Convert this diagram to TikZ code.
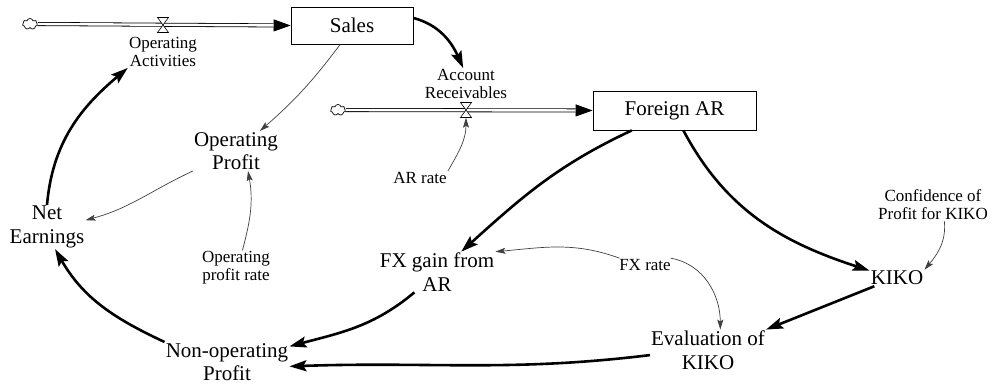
\documentclass[tikz,border=0pt]{standalone}
\usepackage{fontspec}
\setmainfont{Liberation Serif}
\newfontfamily\diagfont{Liberation Serif}
\usetikzlibrary{arrows.meta,shapes.symbols}
\begin{document}
\begin{tikzpicture}[x=1pt,y=-1pt,
  lbl/.style={align=center, inner sep=1pt, font=\diagfont\fontsize{21}{23.5}\selectfont},
  small/.style={align=center, inner sep=1pt, font=\diagfont\fontsize{17}{18}\selectfont},
  stock/.style={draw, line width=0.8pt, inner sep=0pt, font=\diagfont\fontsize{21}{24}\selectfont},
  strong link/.style={line width=2.6pt, -{Stealth[length=17pt,width=11pt,inset=3pt]}},
  weak link/.style={line width=0.7pt, draw=black!75, -{Stealth[length=10pt,width=6pt,inset=2pt]}},
  pipe/.style={double, double distance=2.4pt, line width=0.8pt},
  pipehead/.style={line width=0.8pt, -{Triangle[length=17pt,width=12pt]}},
  sink/.style={cloud, cloud puffs=7, aspect=1.4, draw, line width=0.7pt, inner sep=0pt,
               minimum width=15pt, minimum height=11pt},
  valvebox/.style={inner sep=0pt, minimum width=11pt, minimum height=15pt},
  valvesym/.pic={\draw[fill=white, line width=0.6pt] (-5.5,-7.5) -- (5.5,-7.5) -- (-5.5,7.5) -- (5.5,7.5) -- cycle;}
]
\useasboundingbox (0,0) rectangle (1001,386);

% stocks
\node[stock, minimum width=122pt, minimum height=37pt] (sales) at (352,25.5) {Sales};
\node[stock, minimum width=163pt, minimum height=39pt] (far) at (674.5,110.5) {Foreign AR};

% sources and valves
\node[sink] (sink1) at (30,24) {};
\node[sink] (sink2) at (338,110) {};
\node[valvebox] (valve1) at (163,25) {};
\node[valvebox] (valve2) at (466,110) {};

% auxiliaries
\node[small] (opact) at (163,52) {Operating\\Activities};
\node[small] (accrec) at (466,84) {Account\\Receivables};
\node[small] (arrate) at (420,178) {AR rate};
\node[lbl] (opprofit) at (236,151) {Operating\\Profit};
\node[lbl] (netearn) at (47,227) {Net\\Earnings};
\node[small] (oprate) at (236,268) {Operating\\profit rate};
\node[lbl] (fxgain) at (437,272) {FX gain from\\AR};
\node[lbl] (nonop) at (227,362) {Non-operating\\Profit};
\node[lbl] (evalk) at (708,350) {Evaluation of\\KIKO};
\node[small] (fxrate) at (645,265) {FX rate};
\node[lbl] (kiko) at (897,278) {KIKO};
\node[small] (conf) at (933,205) {Confidence of\\Profit for KIKO};

% flows
\draw[pipehead] (valve1.center) -- (sales.west);
\draw[pipe, shorten >=17pt] (sink1.east) -- (sales.west);
\pic at (valve1) {valvesym};
\draw[pipehead] (valve2.center) -- (far.west);
\draw[pipe, shorten >=17pt] (sink2.east) -- (far.west);
\pic at (valve2) {valvesym};

% strong links
\draw[strong link] (netearn.north) to[out=85,in=220] (opact.south west);
\draw[strong link] (nonop.north west) to[out=155,in=-60] (netearn.-70);
\draw[strong link] (sales.7) to[out=-15,in=114] (accrec.100);
\draw[strong link] (far.-155) to[out=205,in=42] (fxgain.40);
\draw[strong link] (fxgain.-138) to[out=220,in=15] (nonop.14);
\draw[strong link] (evalk.185) to[out=187,in=2] (nonop.-4);
\draw[strong link] (far.-66) to[out=-62,in=162] (kiko.165);
\draw[strong link] (kiko.200) -- (evalk.north east);

% weak links
\draw[weak link] (sales.-122) to[bend left=6] (opprofit.40);
\draw[weak link] (opprofit.south west) to[out=205,in=15] (netearn.10);
\draw[weak link] (oprate.70) to[out=75,in=-80] (opprofit.-59);
\draw[weak link] (arrate.north east) to[out=60,in=-90] (valve2.south);
\draw[weak link] (conf.-55) to[out=-85,in=50] (kiko.north east);
\draw[weak link] (fxrate.165) to[out=160,in=5] (fxgain.north east);
\draw[weak link] (fxrate.15) to[out=-10,in=90] (evalk.59);
\end{tikzpicture}
\end{document}
